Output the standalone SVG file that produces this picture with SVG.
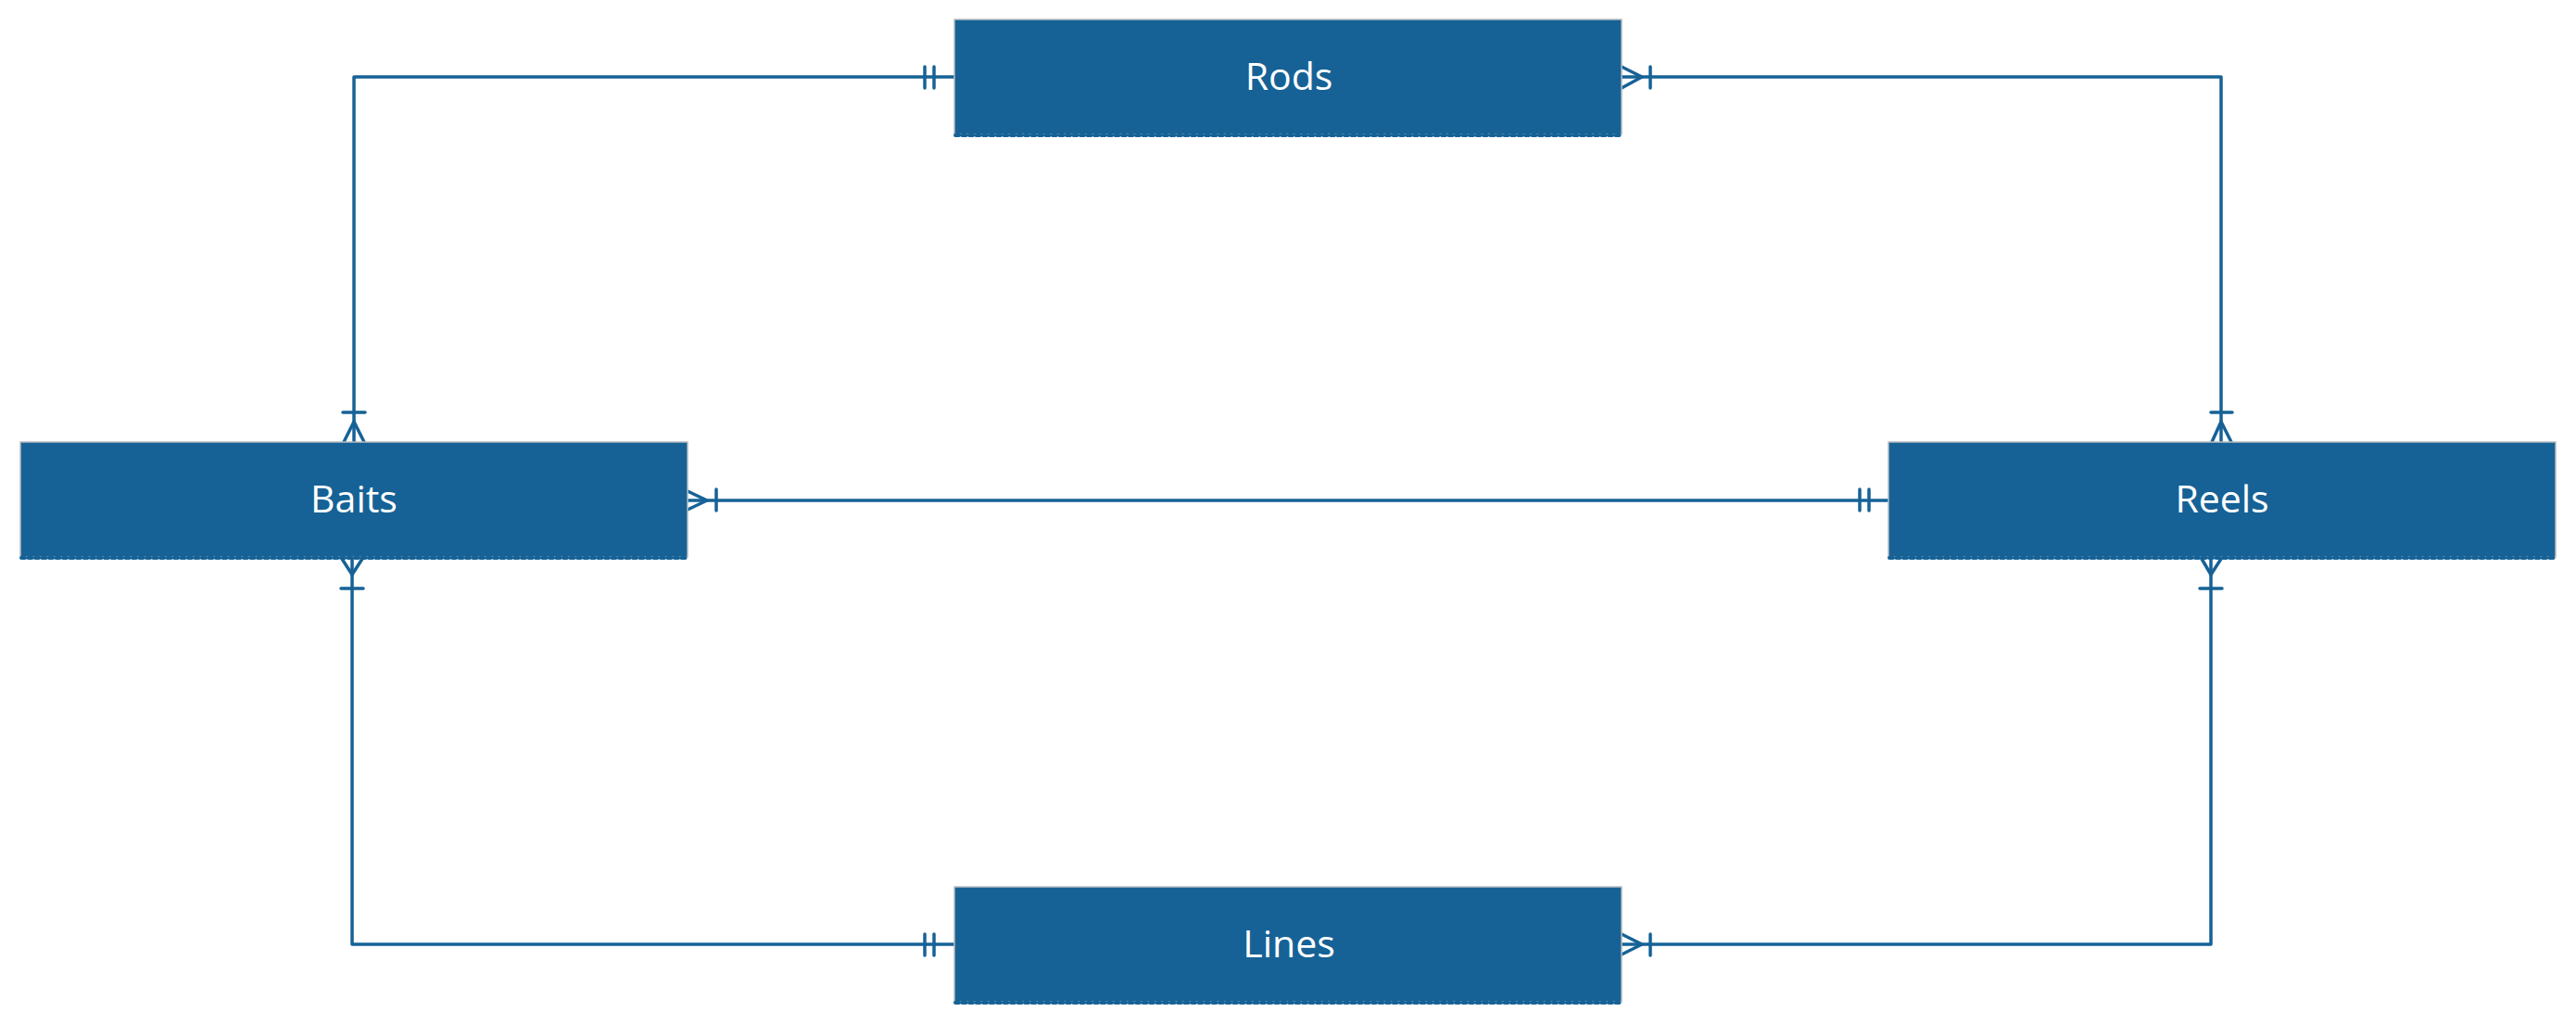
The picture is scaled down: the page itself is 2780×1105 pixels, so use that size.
<svg xmlns="http://www.w3.org/2000/svg" width="2780" height="1105" viewBox="0 0 2780 1105">
<style>
.box{fill:#166296;stroke:#b8bcc0;stroke-width:1.5}
.wave{fill:none;stroke:#166296;stroke-width:4;stroke-dasharray:4 3.5;stroke-linecap:round}
.lbl{font-family:"Open Sans","Noto Sans",sans-serif;font-size:41px;fill:#ffffff;text-anchor:middle}
.c{fill:none;stroke:#166296;stroke-width:3.5;stroke-linecap:round;stroke-linejoin:round}
</style>
<rect width="2780" height="1105" fill="#ffffff"/>
<g id="connectors">
  <!-- Baits - Rods -->
  <path class="c" d="M382 477 V83 H1030"/>
  <path class="c" d="M998 72 V95 M1008 72 V95"/>
  <path class="c" d="M370 445 H394 M371 477 L382 455 L393 477"/>
  <!-- Rods - Reels -->
  <path class="c" d="M1750 83 H2397 V477"/>
  <path class="c" d="M1750 72 L1772 83 L1750 95 M1781 72 V95"/>
  <path class="c" d="M2386 445 H2409 M2387 477 L2397 455 L2408 477"/>
  <!-- Baits - Reels -->
  <path class="c" d="M742 540 H2038"/>
  <path class="c" d="M742 530 L763 540 L742 550 M773 528 V551"/>
  <path class="c" d="M2007 528 V551 M2017 528 V551"/>
  <!-- Baits - Lines -->
  <path class="c" d="M380 603 V1019 H1030"/>
  <path class="c" d="M369 603 L380 620 L391 603 M368 635 H392"/>
  <path class="c" d="M998 1008 V1031 M1008 1008 V1031"/>
  <!-- Lines - Reels -->
  <path class="c" d="M1750 1019 H2386 V603"/>
  <path class="c" d="M1750 1008 L1772 1019 L1750 1030 M1781 1008 V1031"/>
  <path class="c" d="M2376 603 L2386 620 L2397 603 M2374 635 H2398"/>
</g>
<g id="rods">
  <rect class="box" x="1030" y="21" width="720" height="124"/>
  <line class="wave" x1="1031" y1="146" x2="1750" y2="146"/>
  <text class="lbl" x="1391" y="97">Rods</text>
</g>
<g id="baits">
  <rect class="box" x="22" y="477" width="720" height="124"/>
  <line class="wave" x1="23" y1="602" x2="742" y2="602"/>
  <text class="lbl" x="382" y="553">Baits</text>
</g>
<g id="reels">
  <rect class="box" x="2038" y="477" width="720" height="124"/>
  <line class="wave" x1="2039" y1="602" x2="2758" y2="602"/>
  <text class="lbl" x="2398" y="553">Reels</text>
</g>
<g id="lines">
  <rect class="box" x="1030" y="957" width="720" height="124"/>
  <line class="wave" x1="1031" y1="1082" x2="1750" y2="1082"/>
  <text class="lbl" x="1391" y="1033">Lines</text>
</g>
</svg>
